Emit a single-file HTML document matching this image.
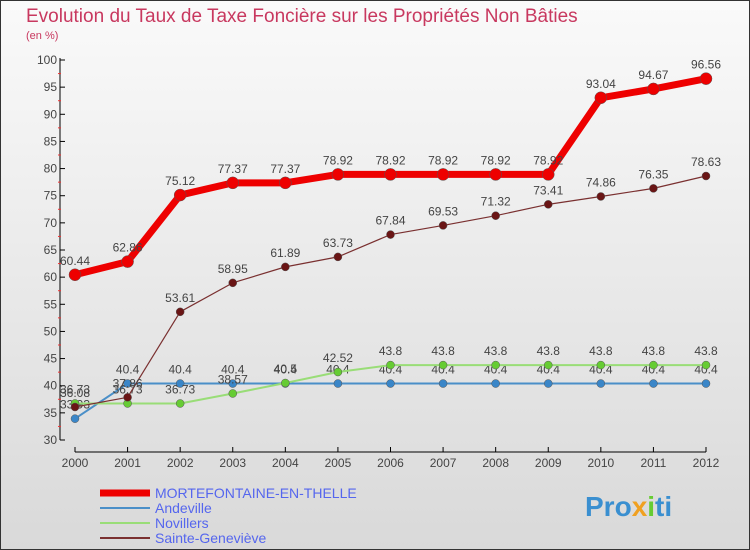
<!DOCTYPE html>
<html><head><meta charset="utf-8"><style>
body{margin:0;width:750px;height:550px;overflow:hidden;font-family:"Liberation Sans",sans-serif}
svg{display:block}
</style></head><body>
<svg id="c" width="750" height="550" xmlns="http://www.w3.org/2000/svg">
<defs><linearGradient id="bg" x1="0" y1="0" x2="0" y2="1"><stop offset="0" stop-color="#fafafa"/><stop offset="1" stop-color="#d9d9d9"/></linearGradient></defs>
<rect x="0.5" y="0.5" width="749" height="549" fill="url(#bg)" stroke="#333"/>
<text x="26" y="22" font-size="19" fill="#c8385f">Evolution du Taux de Taxe Foncière sur les Propriétés Non Bâties</text>
<text x="26" y="39" font-size="11" fill="#c8385f">(en %)</text>
<g id="axes"></g><g id="series"></g>
<g id="legend"></g>
<text x="585" y="516" font-size="28" font-weight="bold" fill="#3a8fd0">Pro<tspan fill="#f0a020">x</tspan><tspan fill="#6c3">i</tspan>ti</text>
</svg>
<script>
const years=[2000,2001,2002,2003,2004,2005,2006,2007,2008,2009,2010,2011,2012];
const mortefontaine=[60.44,62.86,75.12,77.37,77.37,78.92,78.92,78.92,78.92,78.92,93.04,94.67,96.56];
const andeville=[33.93,40.4,40.4,40.4,40.4,40.4,40.4,40.4,40.4,40.4,40.4,40.4,40.4];
const novillers=[36.73,36.73,36.73,38.57,40.5,42.52,43.8,43.8,43.8,43.8,43.8,43.8,43.8];
const sainteGenevieve=[36.08,37.86,53.61,58.95,61.89,63.73,67.84,69.53,71.32,73.41,74.86,76.35,78.63];
const yTicks=[30,35,40,45,50,55,60,65,70,75,80,85,90,95,100];
const NS="http://www.w3.org/2000/svg";
const X=i=>75+i*(706-75)/12, Y=v=>440-(v-30)*(380/70);
function mk(t,a,p){const e=document.createElementNS(NS,t);for(const k in a)e.setAttribute(k,a[k]);p.appendChild(e);return e;}
const ax=document.getElementById('axes');
let l=mk('line',{x1:60,y1:58,x2:60,y2:440,stroke:'#000'},ax);


l=mk('line',{x1:75,y1:452,x2:706,y2:452,stroke:'#000'},ax);


yTicks.forEach(v=>{mk('line',{x1:60,y1:Y(v),x2:65,y2:Y(v),stroke:'#000'},ax);
 if(v<100)mk('line',{x1:58,y1:Y(v+2.5),x2:61,y2:Y(v+2.5),stroke:'#e33'},ax);
 const t=mk('text',{x:57,y:Y(v)+4,'font-size':12,fill:'#444','text-anchor':'end'},ax);t.textContent=v;
 
 });
years.forEach((y,i)=>{mk('line',{x1:X(i),y1:447,x2:X(i),y2:452,stroke:'#000'},ax);
 const t=mk('text',{x:X(i),y:467,'font-size':12,fill:'#444','text-anchor':'middle'},ax);t.textContent=y;
 
 });
const S=[[andeville,'#4a8fc8',2,4,'#3a86c8','andeville'],[novillers,'#99dd77',2,4,'#6c3','novillers'],[sainteGenevieve,'#7a3030',1.2,4,'#6a1515','sainte-genevieve'],[mortefontaine,'#ee0000',7,6,'#ee0000','mortefontaine']];
const sg=document.getElementById('series');
S.forEach(([d,c,w,r,fc,n])=>{const g=mk('g',{},sg);
 
 
 mk('polyline',{points:d.map((v,i)=>X(i)+','+Y(v)).join(' '),fill:'none',stroke:c,'stroke-width':w,'stroke-linejoin':'round'},g);
 d.forEach((v,i)=>{const p=mk('circle',{cx:X(i),cy:Y(v),r:r,fill:fc,stroke:'#555','stroke-width':0.5},g);
  
  
  const t=mk('text',{x:X(i),y:Y(v)-10,'font-size':12,fill:'#444','text-anchor':'middle'},g);t.textContent=v;
  
  });});
const lg=document.getElementById('legend');
[['MORTEFONTAINE-EN-THELLE','#ee0000',7],['Andeville','#4a8fc8',2],['Novillers','#99dd77',2],['Sainte-Geneviève','#7a3030',2]].forEach(([n,c,w],i)=>{
 const y=493+i*15;const g=mk('g',{},lg);
 
 
 mk('line',{x1:100,y1:y,x2:150,y2:y,stroke:c,'stroke-width':w},g);
 const t=mk('text',{x:155,y:y+5,'font-size':14,fill:'#5566ee'},g);t.textContent=n;});
</script>
</body></html>
